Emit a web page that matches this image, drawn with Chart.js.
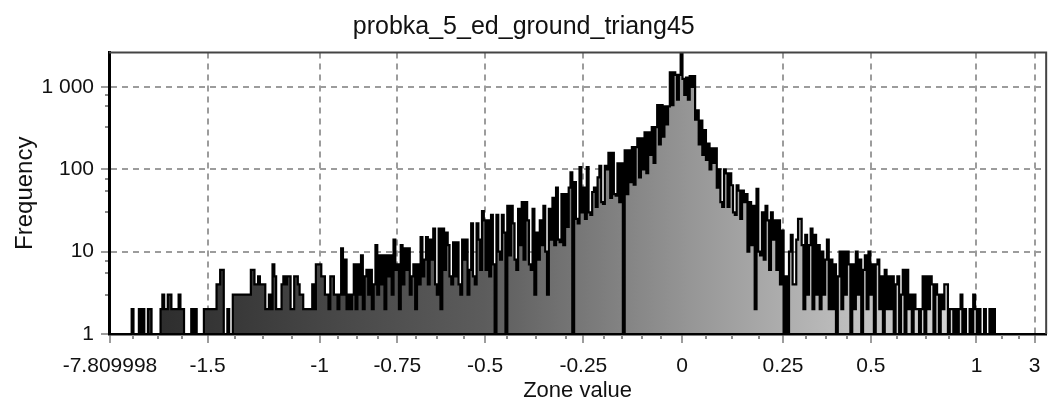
<!DOCTYPE html>
<html>
<head>
<meta charset="utf-8">
<title>probka_5_ed_ground_triang45</title>
<script src="https://cdn.jsdelivr.net/npm/chart.js@4/dist/chart.umd.min.js"></script>
<style>
  html, body { margin: 0; padding: 0; background: #fff; }
  #wrap { width: 1051px; height: 405px; }
</style>
</head>
<body>
<div id="wrap"><canvas id="histo"></canvas></div>
<script>
const chartTitle = "probka_5_ed_ground_triang45"
const xTitle = "Zone value"
const yTitle = "Frequency"

// zone value labels and the bin each of them sits on (512 bins)
const xTickLabels = ["-7.809998", "-1.5", "-1", "-0.75", "-0.5", "-0.25", "0", "0.25", "0.5", "1", "3"]
const xTickBins = [0, 54, 116.1, 159.1, 207.7, 262.1, 316.8, 372.7, 421.3, 479.8, 512]
const xMinorBins = [12.7, 26.5, 39.8, 69.1, 84.6, 100.6, 126.1, 136.6, 148.2, 169.7, 180.8, 196.3,
  220.1, 236.1, 252.7, 273.7, 283.6, 294.7, 305.2, 330.1, 344.5, 359.4, 385.4, 396.5, 408.1,
  435.7, 451.8, 464.5, 493.8, 503.2]

const yTickValues = [1, 10, 100, 1000]
const yTickLabels = ["1", "10", "100", "1 000"]
const yMinorValues = [3, 5.5, 7.7, 30, 55, 77, 330, 580, 800]

// counts per bin
const binCounts = [
  1,1,1,1,1,1,1,1,1,1,1,1,1,2,1,1,
  1,2,1,2,1,1,2,2,1,1,1,1,1,2,3,2,
  2,3,3,2,2,2,2,3,2,2,1,1,1,1,2,1,
  2,1,1,1,1,2,2,2,2,2,2,2,4,4,6,6,
  1,1,2,1,1,3,3,3,3,3,3,3,3,3,3,6,
  6,4,4,5,4,4,4,2,2,3,2,7,5,2,2,2,
  4,5,4,5,5,2,2,5,5,4,3,3,2,2,2,2,
  2,4,2,7,7,7,5,5,3,3,2,5,5,3,3,2,
  3,11,3,8,2,3,2,3,7,2,7,3,9,2,5,6,
  3,6,2,4,12,3,9,4,9,2,9,5,9,3,14,6,
  7,2,12,4,11,6,11,3,5,7,2,7,4,15,5,8,
  15,4,14,8,19,4,3,19,2,19,6,17,12,5,4,13,
  5,13,4,3,14,8,14,3,6,22,5,4,22,14,6,31,
  24,6,24,5,28,7,1,28,10,8,28,17,1,36,9,36,
  22,8,6,33,12,40,8,40,24,7,6,33,3,17,8,24,
  12,36,10,3,33,14,45,12,60,14,13,50,12,50,20,60,
  92,1,70,25,22,106,30,60,25,106,30,28,53,60,35,80,
  110,40,38,110,100,158,45,158,50,48,118,40,118,1,170,50,
  170,70,186,65,186,237,80,237,100,280,90,280,150,325,120,325,
  600,200,600,250,580,350,580,1500,600,1500,1400,700,1400,3500,1250,800,
  1300,700,1350,1000,1350,400,520,200,390,150,300,130,205,100,180,120,
  180,60,100,40,35,100,89,35,89,64,30,28,64,55,25,55,
  40,50,10,40,12,36,2,58,10,9,30,8,36,24,6,30,
  14,24,6,24,4,18,1,5,1,10,16,4,4,14,25,25,
  12,2,16,3,12,19,2,16,3,12,2,10,3,8,14,2,
  8,2,7,1,5,10,2,10,3,10,7,1,7,2,10,3,
  8,1,6,9,2,10,3,7,1,7,8,2,5,1,6,2,
  5,2,5,1,4,5,1,3,6,1,6,2,3,1,3,2,
  2,1,2,5,1,5,2,5,4,1,4,3,1,3,2,4,
  4,1,2,2,1,2,1,2,3,1,2,1,1,2,1,3,
  2,1,2,1,1,2,1,1,2,1,2,1,1,1,1,1,
  1,1,1,1,1,1,1,1,1,1,1,1,1,1,1,1
]

const steps = binCounts.map((c, i) => ({ x: i, y: c }))
steps.push({ x: binCounts.length, y: binCounts[binCounts.length - 1] })

const fontFamily = "'Liberation Sans', Arial, sans-serif"
const gridGray = "#9c9c9c"

function shade(context) {
    const { chart } = context
    const area = chart.chartArea
    if (!area) return "#888"
    const g = chart.ctx.createLinearGradient(area.left, 0, area.right, 0)
    g.addColorStop(0, "#262626")
    g.addColorStop(0.26, "#4a4a4a")
    g.addColorStop(0.4, "#5c5c5c")
    g.addColorStop(0.62, "#969696")
    g.addColorStop(0.8, "#c0c0c0")
    g.addColorStop(1, "#e8e8e8")
    return g
}

// top/right frame lines and the small minor tick marks
const frame = {
    id: "frame",
    afterDraw(chart) {
        const { ctx, chartArea: a, scales } = chart
        ctx.save()
        ctx.strokeStyle = "#444"
        ctx.lineWidth = 2
        ctx.beginPath()
        ctx.moveTo(a.left, a.top)
        ctx.lineTo(a.right, a.top)
        ctx.lineTo(a.right, a.bottom)
        ctx.stroke()

        ctx.strokeStyle = "#8a8a8a"
        ctx.lineWidth = 2
        ctx.beginPath()
        xMinorBins.forEach(v => {
            const px = Math.round(scales.x.getPixelForValue(v))
            ctx.moveTo(px, a.bottom + 1)
            ctx.lineTo(px, a.bottom + 5)
        })
        yMinorValues.forEach(v => {
            const py = Math.round(scales.y.getPixelForValue(v))
            ctx.moveTo(a.left - 4, py)
            ctx.lineTo(a.left - 1, py)
        })
        ctx.stroke()
        ctx.restore()
    }
}

new Chart(document.getElementById("histo"), {
    type: "line",
    data: {
        datasets: [
            {
                data: steps,
                stepped: "after",
                borderColor: "#000",
                borderWidth: 2.2,
                pointRadius: 0,
                fill: "start",
                backgroundColor: shade
            }
        ]
    },
    options: {
        responsive: true,
        maintainAspectRatio: false,
        animation: false,
        layout: { padding: { left: 0, right: 3.5, top: 0, bottom: 0 } },
        plugins: {
            legend: { display: false },
            tooltip: { enabled: false },
            title: {
                display: true,
                text: chartTitle,
                color: "#111",
                font: { family: fontFamily, size: 25, weight: "normal" },
                padding: { top: 12, bottom: 10.5 }
            }
        },
        scales: {
            x: {
                type: "linear",
                min: -0.55,
                max: 518.4,
                afterBuildTicks: scale => {
                    scale.ticks = xTickBins.map(v => ({ value: v }))
                },
                afterFit: scale => { scale.height = 71 },
                ticks: {
                    autoSkip: false,
                    maxRotation: 0,
                    padding: 10.5,
                    color: "#111",
                    font: { family: fontFamily, size: 21 },
                    callback: (value, index) => xTickLabels[index]
                },
                grid: {
                    color: gridGray,
                    lineWidth: 2,
                    tickLength: 9,
                    tickColor: gridGray,
                    tickWidth: 2
                },
                border: { display: true, color: "#000", width: 2.5, dash: [6, 5], z: 1 },
                title: {
                    display: true,
                    text: xTitle,
                    color: "#111",
                    font: { family: fontFamily, size: 22 },
                    padding: { top: 0, bottom: 0.5 }
                }
            },
            y: {
                type: "logarithmic",
                min: 1,
                max: 2620,
                afterBuildTicks: scale => {
                    scale.ticks = yTickValues.map(v => ({ value: v }))
                },
                afterFit: scale => { scale.width = 109 },
                ticks: {
                    padding: 7,
                    color: "#111",
                    font: { family: fontFamily, size: 21 },
                    callback: (value, index) => yTickLabels[index]
                },
                grid: {
                    color: gridGray,
                    lineWidth: 2,
                    tickLength: 8,
                    tickColor: gridGray,
                    tickWidth: 2
                },
                border: { display: true, color: "#000", width: 3, dash: [6, 5], z: 1 },
                title: {
                    display: true,
                    text: yTitle,
                    color: "#111",
                    font: { family: fontFamily, size: 24 },
                    padding: { top: 11, bottom: 0 }
                }
            }
        }
    },
    plugins: [frame]
})
</script>
</body>
</html>
